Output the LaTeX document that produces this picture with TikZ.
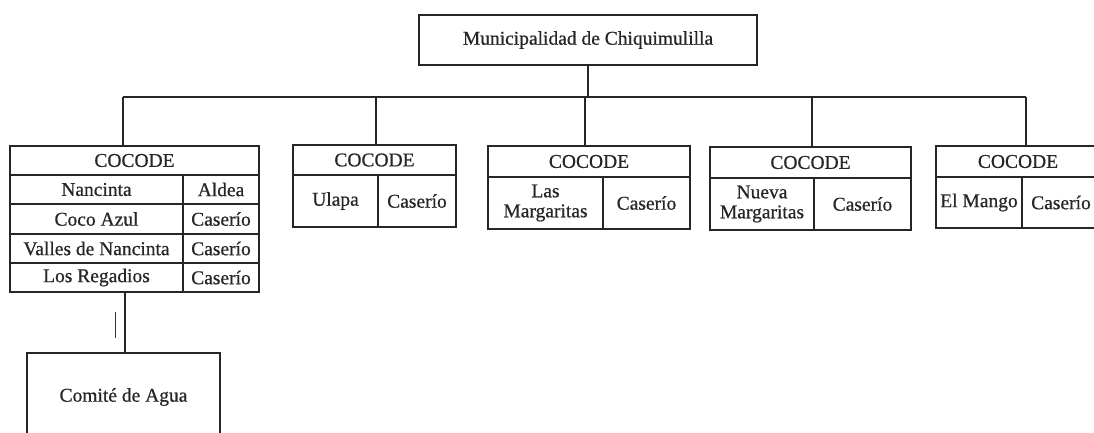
\documentclass[tikz,border=0pt]{standalone}
\usepackage{fontspec}
\setmainfont{Liberation Serif}
\newfontfamily\scanfont[FakeBold=0.6]{Liberation Serif}
\begin{document}
\begin{tikzpicture}[x=1pt,y=-1pt,
  ln/.style={line width=1.6pt,black!85},
  cell/.style={draw,ln,inner sep=0pt,outer sep=0pt,align=center,
    font=\scanfont\fontsize{19.5}{20}\selectfont},
]
\clip (0,0) rectangle (1094,432);
\fill[white] (0,0) rectangle (1094,432);
% top
\node[cell,minimum width=338,minimum height=50] (mun) at (588,40) {Municipalidad de Chiquimulilla};
% box 1
\node[cell,minimum width=249,minimum height=29] (h1) at (134.5,160.5) {COCODE};
\node[cell,minimum width=173,minimum height=29] (r1a) at (96.5,189.5) {Nancinta};
\node[cell,minimum width=76,minimum height=29] (r1b) at (221,189.5) {Aldea};
\node[cell,minimum width=173,minimum height=30] (r2a) at (96.5,219) {Coco Azul};
\node[cell,minimum width=76,minimum height=30] (r2b) at (221,219) {Caserío};
\node[cell,minimum width=173,minimum height=29] (r3a) at (96.5,248.5) {Valles de Nancinta};
\node[cell,minimum width=76,minimum height=29] (r3b) at (221,248.5) {Caserío};
\node[cell,minimum width=173,minimum height=29] (r4a) at (96.5,277.5) {Los Regadios};
\node[cell,minimum width=76,minimum height=29] (r4b) at (221,277.5) {Caserío};
% box 2
\node[cell,minimum width=163,minimum height=30] (h2) at (374.5,160) {COCODE};
\node[cell,minimum width=85,minimum height=52] (b2a) at (335.5,201) {Ulapa};
\node[cell,minimum width=78,minimum height=52] (b2b) at (417,201) {Caserío};
% box 3
\node[cell,minimum width=202,minimum height=31] (h3) at (589,161.5) {COCODE};
\node[cell,minimum width=115,minimum height=52] (b3a) at (545.5,203) {Las\\Margaritas};
\node[cell,minimum width=87,minimum height=52] (b3b) at (646.5,203) {Caserío};
% box 4
\node[cell,minimum width=201,minimum height=31] (h4) at (810.5,162.5) {COCODE};
\node[cell,minimum width=104,minimum height=52] (b4a) at (762,204) {Nueva\\Margaritas};
\node[cell,minimum width=97,minimum height=52] (b4b) at (862.5,204) {Caserío};
% box 5
\node[cell,minimum width=164,minimum height=31] (h5) at (1018,161.5) {COCODE};
\node[cell,minimum width=86,minimum height=51] (b5a) at (979,202.5) {El Mango};
\node[cell,minimum width=78,minimum height=51] (b5b) at (1061,202.5) {Caserío};
% comite
\node[cell,minimum width=193,minimum height=88] (agua) at (123.5,397) {Comité de Agua};
% connectors
\coordinate (d1) at (123,97);
\coordinate (d2) at (376,97);
\coordinate (d3) at (585,97);
\coordinate (d4) at (812,97);
\coordinate (d5) at (1026,97);
\draw[ln] (mun.south) -- (mun.south |- d1);
\draw[ln] (d1) -- (d5);
\draw[ln] (d1) -- (d1 |- h1.north);
\draw[ln] (d2) -- (d2 |- h2.north);
\draw[ln] (d3) -- (d3 |- h3.north);
\draw[ln] (d4) -- (d4 |- h4.north);
\draw[ln] (d5) -- (d5 |- h5.north);
\coordinate (c1) at (125,292);
\draw[ln] (c1) -- (c1 |- agua.north);
\coordinate (m1) at (115,312);
\coordinate (m2) at (115,338);
\draw[line width=1pt,black!80] (m1) -- (m2);
\end{tikzpicture}
\end{document}
